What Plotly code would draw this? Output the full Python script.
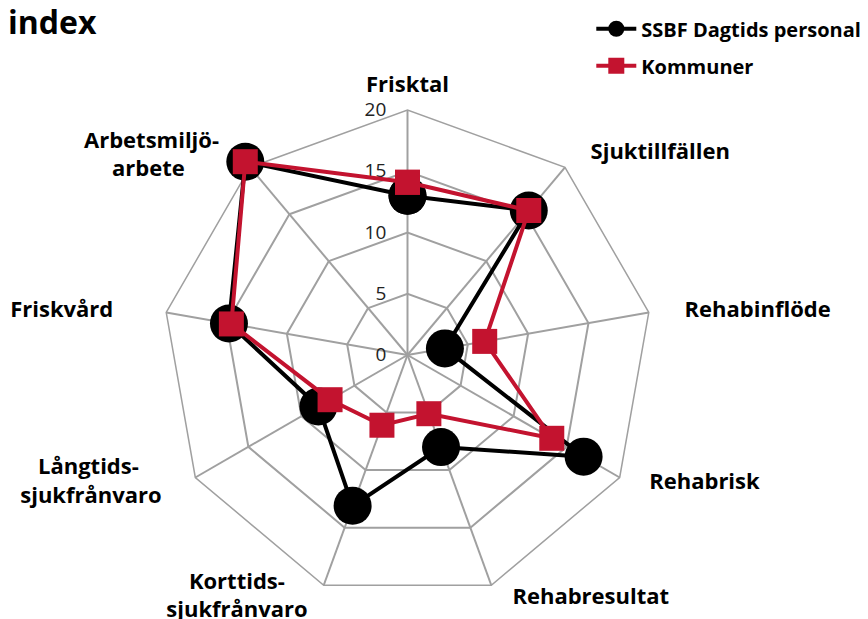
import plotly.graph_objects as go

# Categories around the radar, clockwise from the top
categories = ["Frisktal", "Sjuktillfällen", "Rehabinflöde", "Rehabrisk",
              "Rehabresultat", "Korttids-sjukfrånvaro",
              "Långtids-sjukfrånvaro", "Friskvård", "Arbetsmiljö-arbete"]
ssbf = [13.0, 15.4, 3.1, 16.6, 8.0, 13.1, 8.4, 14.8, 20.6]
kommuner = [14.1, 15.4, 6.4, 13.6, 5.1, 6.1, 7.3, 14.6, 20.6]
radial_ticks = [0, 5, 10, 15, 20]

red = "#C3132F"
grid = "#a0a0a0"
NB = "\u00a0"

# label text (bold, wrapped, padded with no-break spaces to sit like the original)
label_text = {
    "Frisktal": "Frisktal",
    "Sjuktillfällen": NB * 3 + "Sjuktillfällen",
    "Rehabinflöde": NB * 4 + "Rehabinflöde",
    "Rehabrisk": NB * 7 + "Rehabrisk",
    "Rehabresultat": NB * 4 + "Rehabresultat",
    "Korttids-sjukfrånvaro": ["Korttids-" + NB * 8, "sjukfrånvaro" + NB * 4],
    "Långtids-sjukfrånvaro": ["Långtids-" + NB * 14, "sjukfrånvaro" + NB * 10],
    "Friskvård": "Friskvård" + NB * 7,
    "Arbetsmiljö-arbete": ["Arbetsmiljö-" + NB * 6, "arbete" + NB * 12],
}
# which label layer (radius cut in px) each category label is drawn on
label_layer = {
    "Frisktal": 0, "Sjuktillfällen": 0, "Rehabinflöde": 0, "Friskvård": 0,
    "Rehabresultat": 18, "Arbetsmiljö-arbete": 18, "Rehabrisk": 25,
    "Korttids-sjukfrånvaro": 33, "Långtids-sjukfrånvaro": 40,
}

def bold(t):
    lines = t if isinstance(t, list) else [t]
    return "<br>".join("<b>" + s + "</b>" for s in lines)

# close the loops
theta = categories + categories[:1]

# grid polar: centre ~ (406, 354) px, 20 -> 245 px
W, H = 868, 619
cx, cy, R = 399.5, 347.0, 245.0
def dom(r):
    return dict(x=[(cx - r) / W, (cx + r) / W], y=[1 - (cy + r) / H, 1 - (cy - r) / H])

fig = go.Figure()

layers = sorted(set(label_layer.values()))
polar_names = {0: "polar"}
for i, d in enumerate(layers[1:]):
    polar_names[d] = "polar%d" % (i + 3)

# invisible traces so grid / label subplots get drawn
for d in layers:
    fig.add_trace(go.Scatterpolar(
        r=[0] * len(categories), theta=categories, subplot=polar_names[d],
        mode="markers", marker=dict(opacity=0), showlegend=False, hoverinfo="skip"))

fig.add_trace(go.Scatterpolar(
    r=ssbf + ssbf[:1], theta=theta, name="<b>SSBF Dagtids personal</b>",
    mode="lines+markers", subplot="polar2", legendgroup="a",
    line=dict(color="black", width=4),
    marker=dict(symbol="circle", size=38, color="black")))
fig.add_trace(go.Scatterpolar(
    r=kommuner + kommuner[:1], theta=theta, name="<b>Kommuner</b>",
    mode="lines+markers", subplot="polar2", legendgroup="b",
    line=dict(color=red, width=4),
    marker=dict(symbol="square", size=25, color=red)))

def ticktext_for(d):
    return [bold(label_text[c]) if label_layer[c] == d else "" for c in categories]

layout_polars = {}
layout_polars["polar"] = dict(
    domain=dom(R),
    bgcolor="white",
    gridshape="linear",
    radialaxis=dict(range=[0, 20], tickvals=radial_ticks, angle=90, tickangle=90,
                    side="counterclockwise",
                    showline=False, ticks="outside", ticklen=14,
                    tickcolor="rgba(0,0,0,0)",
                    gridcolor=grid, gridwidth=1.5,
                    tickfont=dict(size=19, color="#222")),
    angularaxis=dict(direction="clockwise", rotation=90,
                     categoryorder="array", categoryarray=categories,
                     linecolor=grid, linewidth=1.5,
                     gridcolor=grid, gridwidth=1.5,
                     ticks="outside", ticklen=8, tickcolor="rgba(0,0,0,0)",
                     tickfont=dict(size=22, color="black"),
                     tickvals=categories, ticktext=ticktext_for(0)),
)
for d in layers[1:]:
    layout_polars[polar_names[d]] = dict(
        domain=dom(R - d),
        bgcolor="rgba(0,0,0,0)",
        gridshape="linear",
        radialaxis=dict(range=[0, 20], visible=False),
        angularaxis=dict(direction="clockwise", rotation=90,
                         categoryorder="array", categoryarray=categories,
                         showgrid=False, showline=False,
                         ticks="outside", ticklen=8, tickcolor="rgba(0,0,0,0)",
                         tickfont=dict(size=22, color="black"),
                         tickvals=categories, ticktext=ticktext_for(d)),
    )
# data layer: same centre and scale as the grid, room for values above 20
layout_polars["polar2"] = dict(
    domain=dom(R * 21 / 20),
    bgcolor="rgba(0,0,0,0)",
    gridshape="linear",
    radialaxis=dict(range=[0, 21], visible=False),
    angularaxis=dict(direction="clockwise", rotation=90,
                     categoryorder="array", categoryarray=categories,
                     tickvals=categories,
                     showgrid=False, showline=False, ticks="",
                     showticklabels=False),
)

fig.update_layout(
    width=W, height=H,
    margin=dict(l=0, r=0, t=0, b=0),
    paper_bgcolor="white",
    font=dict(family="Open Sans", color="black"),
    title=dict(text="<b>index</b>", xref="paper", x=0, xanchor="left",
               y=0.995, yanchor="top", pad=dict(l=0, t=0),
               font=dict(size=32, color="black")),
    legend=dict(x=0.672, y=0.998, xanchor="left", yanchor="top",
                font=dict(size=20, color="black"), itemwidth=40,
                tracegroupgap=8, bgcolor="rgba(0,0,0,0)"),
    showlegend=True,
    **layout_polars,
)

fig.write_html("out.html")
